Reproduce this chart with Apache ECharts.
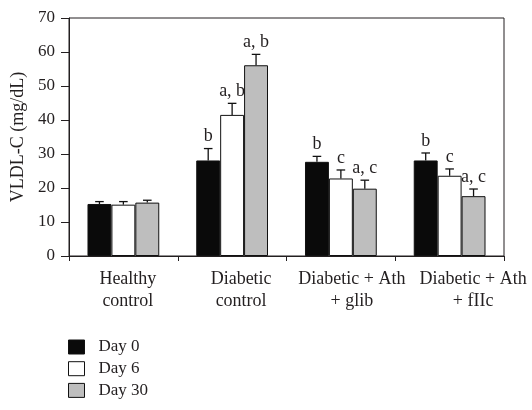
<!DOCTYPE html>
<html>
<head>
<meta charset="utf-8">
<script src="https://cdn.jsdelivr.net/npm/echarts@6/dist/echarts.min.js"></script>
<style>html,body{margin:0;padding:0;background:#fff;}#c{width:532px;height:410px;}</style>
</head>
<body>
<div id="c"></div>
<script>
var categories = ['Healthy\ncontrol', 'Diabetic\ncontrol', 'Diabetic + Ath\n+ glib', 'Diabetic + Ath\n+ fIIc'];
var seriesNames = ['Day 0', 'Day 6', 'Day 30'];
var day0 = [15.3, 28.1, 27.7, 28.1];
var day6 = [15.1, 41.5, 22.8, 23.6];
var day30 = [15.7, 56.1, 19.8, 17.6];
var err0 = [16.0, 31.6, 29.3, 30.3];
var err6 = [16.0, 44.9, 25.3, 25.6];
var err30 = [16.4, 59.3, 22.3, 19.7];
var lab0 = ['', 'b', 'b', 'b'];
var lab6 = ['', 'a, b', 'c', 'c'];
var lab30 = ['', 'a, b', 'a, c', 'a, c'];
var yTicks = [0, 10, 20, 30, 40, 50, 60, 70];

// label horizontal nudges (styling only, px to the right of the category centre)
var labelNudge = [4.5, 9, 11, 23.5];

var FONT = 'Liberation Serif';
var TXT = '#231f20';
var colors = ['#0a0a0a', '#ffffff', '#bebebe'];
var values = [day0, day6, day30];
var errs = [err0, err6, err30];
var labs = [lab0, lab6, lab30];
var BARW = 0.22;

var series = [];
for (var s = 0; s < 3; s++) {
  series.push({
    name: seriesNames[s], type: 'bar', data: values[s],
    barWidth: (BARW * 100) + '%', barGap: '0%',
    itemStyle: { color: colors[s], borderColor: '#111', borderWidth: 1 }
  });
}
for (var s2 = 0; s2 < 3; s2++) {
  (function (si) {
    var data = values[si].map(function (v, i) { return [i, v, errs[si][i]]; });
    series.push({
      type: 'custom', name: 'err' + si, data: data, z: 5,
      renderItem: function (params, api) {
        var i = api.value(0);
        var catW = api.size([1, 0])[0];
        var bw = catW * BARW;
        var base = api.coord([i, api.value(1)]);
        var top = api.coord([i, api.value(2)]);
        var x = base[0] + (si - 1) * bw;
        var cap = 4.3;
        var label = labs[si][i];
        var children = [
          { type: 'line', shape: { x1: x, y1: base[1], x2: x, y2: top[1] }, style: { stroke: '#111', lineWidth: 1.3 } },
          { type: 'line', shape: { x1: x - cap, y1: top[1], x2: x + cap, y2: top[1] }, style: { stroke: '#111', lineWidth: 1.3 } }
        ];
        if (label) {
          children.push({ type: 'text', x: x, y: top[1] - 3, style: { text: label, font: '18px "' + FONT + '"', fill: TXT, align: 'center', verticalAlign: 'bottom' } });
        }
        return { type: 'group', children: children };
      }
    });
  })(s2);
}

var xData = categories.map(function (c, i) {
  return { value: c, textStyle: { padding: [0, 0, 0, 2 * labelNudge[i]] } };
});

var chart = echarts.init(document.getElementById('c'), null, { renderer: 'canvas' });
chart.setOption({
  backgroundColor: '#fff',
  animation: false,
  grid: { left: 69, right: 28, top: 18, bottom: 154, show: true, borderColor: '#231f20', borderWidth: 1, backgroundColor: 'transparent' },
  legend: {
    data: seriesNames, orient: 'vertical', left: 68, top: 338.5, height: 72, padding: 0,
    icon: 'rect', itemWidth: 16, itemHeight: 14, itemGap: 4.7,
    textStyle: { fontFamily: FONT, fontSize: 17, color: TXT, padding: [0, 0, 0, 9] },
    itemStyle: { borderColor: '#111', borderWidth: 1 }
  },
  xAxis: {
    type: 'category', data: xData, boundaryGap: true,
    axisLine: { lineStyle: { color: '#231f20', width: 1 } },
    axisTick: { show: true, length: 5, alignWithLabel: false, lineStyle: { color: '#231f20' } },
    axisLabel: { fontFamily: FONT, fontSize: 18, color: TXT, lineHeight: 21.5, margin: 13, interval: 0 }
  },
  yAxis: {
    type: 'value', min: 0, max: 70, interval: 10,
    name: 'VLDL-C (mg/dL)', nameLocation: 'middle', nameGap: 40,
    nameTextStyle: { fontFamily: FONT, fontSize: 18, color: TXT },
    axisLine: { show: true, lineStyle: { color: '#231f20', width: 1 } },
    axisTick: { show: true, length: 8, lineStyle: { color: '#231f20' } },
    axisLabel: { fontFamily: FONT, fontSize: 17, color: TXT, margin: 14,
      formatter: function (v) { return yTicks.indexOf(v) >= 0 ? String(v) : ''; } },
    splitLine: { show: false }
  },
  series: series
});
</script>
</body>
</html>
